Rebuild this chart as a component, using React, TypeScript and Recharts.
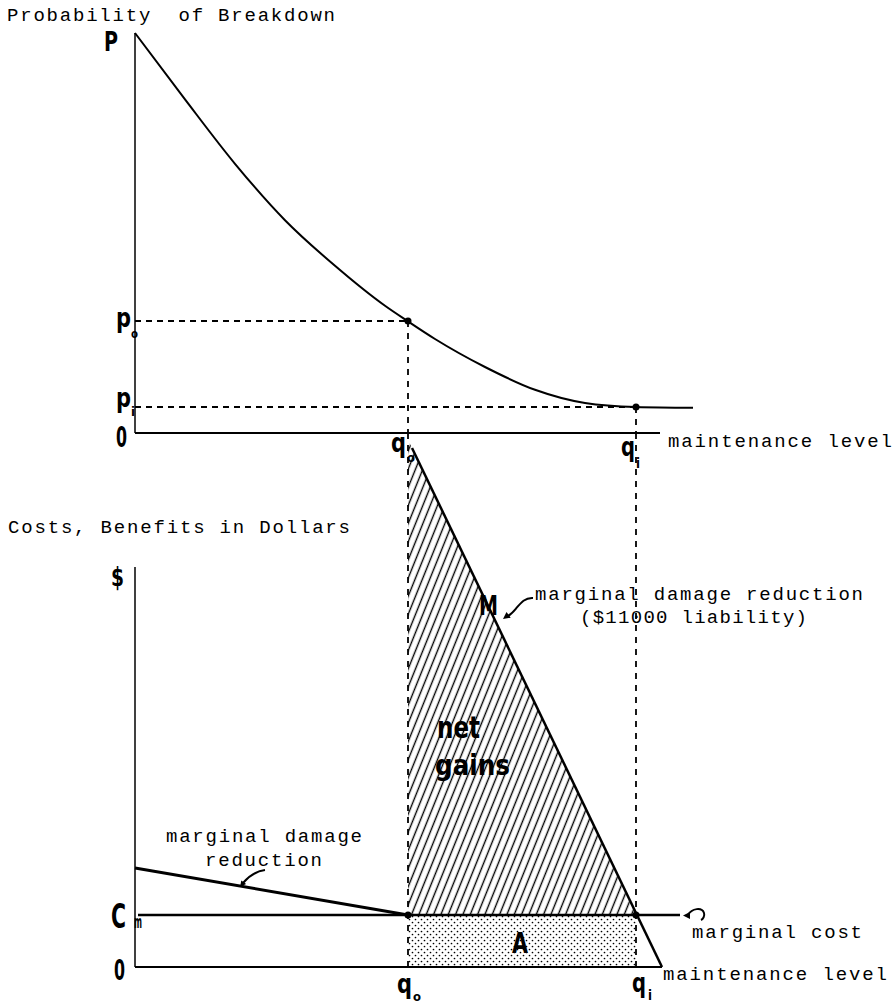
import React from 'react';
import {
  ComposedChart,
  Line,
  Area,
  XAxis,
  YAxis,
  ReferenceLine,
  ReferenceDot,
  ReferenceArea,
} from 'recharts';

const W = 895;
const H = 1003;

// ---------- shared x (maintenance level) ----------
const q0 = 5.46;
const q1 = 10.02;
const qDomain: [number, number] = [0, 11.2];
const qAxisEndTop = 10.5;
const qAxisEndBottom = 10.54;

// ---------- top panel: probability of breakdown ----------
const pTop = 1;
const p0 = 0.28;
const p1 = 0.065;
const breakdownCurve = [
  { q: 0, p: 1.0 },
  { q: 1, p: 0.834 },
  { q: 2, p: 0.673 },
  { q: 3, p: 0.532 },
  { q: 4, p: 0.418 },
  { q: 5, p: 0.318 },
  { q: 5.46, p: 0.279 },
  { q: 6, p: 0.235 },
  { q: 7, p: 0.165 },
  { q: 8, p: 0.108 },
  { q: 9, p: 0.075 },
  { q: 10.02, p: 0.065 },
  { q: 11.16, p: 0.063 },
];

// ---------- bottom panel: dollars ----------
const dollarTop = 10;
const dollarDomainMax = 13.35;
const Cm = 1.3;
const mdrLowLiability = [
  { q: 0, v: 2.475 },
  { q: q0, v: Cm },
];
const mdrHighLiability = [
  { q: 5.54, v: 12.975 },
  { q: 10.54, v: 0 },
];
const marginalCost = [
  { q: 0.06, v: Cm },
  { q: 10.9, v: Cm },
];
const netGains = [
  { q: q0, v: [Cm, 13.18] },
  { q: q1, v: [Cm, Cm] },
];
const mPoint = { q: 7.0, v: 9.186 };

// ---------- tick labels ----------
const topYTicks = ['P', 'p', 'p', '0'];
const topXTicks = ['q', 'q'];
const subs = ['o', 'i'];
const bottomYTicks = ['$', 'C', '0'];

const MONO = "'Liberation Mono', 'DejaVu Sans Mono', monospace";
const BOLD = "'DejaVu Sans Condensed', 'Liberation Sans Narrow', 'DejaVu Sans', sans-serif";

type Note = {
  at: [number, number];
  dx: number;
  dy: number;
  text: string;
  kind: 'mono' | 'bold';
  size: number;
  len?: number;
  anchor?: 'start' | 'middle' | 'end';
};

function renderNotes(notes: Note[], prefix: string) {
  return notes.map((n, i) => (
    <ReferenceDot
      key={prefix + i}
      x={n.at[0]}
      y={n.at[1]}
      r={0}
      ifOverflow="visible"
      shape={(p: any) => (
        <text
          x={p.cx + n.dx}
          y={p.cy + n.dy}
          fontFamily={n.kind === 'mono' ? MONO : BOLD}
          fontWeight={n.kind === 'bold' ? 700 : 400}
          fontSize={n.size}
          fill="#000"
          textAnchor={n.anchor || 'start'}
          textLength={n.len}
          lengthAdjust={n.kind === 'bold' ? 'spacingAndGlyphs' : 'spacing'}
          style={{ whiteSpace: 'pre' }}
        >
          {n.text}
        </text>
      )}
    />
  ));
}

type Arrow = { at: [number, number]; path: string; head: string };
function renderArrows(arrows: Arrow[], prefix: string) {
  return arrows.map((a, i) => (
    <ReferenceDot
      key={prefix + i}
      x={a.at[0]}
      y={a.at[1]}
      r={0}
      ifOverflow="visible"
      shape={(p: any) => (
        <g transform={`translate(${p.cx},${p.cy})`}>
          <path d={a.path} fill="none" stroke="#000" strokeWidth={2} />
          <polygon points={a.head} fill="#000" />
        </g>
      )}
    />
  ));
}

const topNotes: Note[] = [
  { at: [0, pTop], dx: -128, dy: -12, text: 'Probability  of Breakdown', kind: 'mono', size: 19, len: 328 },
  { at: [0, pTop], dx: -31, dy: 18, text: topYTicks[0], kind: 'bold', size: 27, len: 14 },
  { at: [0, p0], dx: -19, dy: 6, text: topYTicks[1], kind: 'bold', size: 26, len: 15 },
  { at: [0, p0], dx: -4, dy: 17, text: subs[0], kind: 'bold', size: 13, len: 7 },
  { at: [0, p1], dx: -19, dy: 0, text: topYTicks[2], kind: 'bold', size: 26, len: 15 },
  { at: [0, p1], dx: -4, dy: 9, text: subs[1], kind: 'bold', size: 13, len: 4 },
  { at: [0, 0], dx: -19, dy: 14, text: topYTicks[3], kind: 'bold', size: 28, len: 11 },
  { at: [q0, 0], dx: -17, dy: 19, text: topXTicks[0], kind: 'bold', size: 26, len: 15 },
  { at: [q0, 0], dx: -1, dy: 29, text: subs[0], kind: 'bold', size: 13, len: 8 },
  { at: [q1, 0], dx: -15, dy: 23, text: topXTicks[1], kind: 'bold', size: 26, len: 14 },
  { at: [q1, 0], dx: 0, dy: 35, text: subs[1], kind: 'bold', size: 14, len: 4 },
  { at: [qAxisEndTop, 0], dx: 8, dy: 14, text: 'maintenance level', kind: 'mono', size: 19, len: 224 },
];

const bottomNotes: Note[] = [
  { at: [0, dollarTop], dx: -127, dy: -34, text: 'Costs, Benefits in Dollars', kind: 'mono', size: 19, len: 342 },
  { at: [0, dollarTop], dx: -24, dy: 19, text: bottomYTicks[0], kind: 'bold', size: 27, len: 13 },
  { at: [0, Cm], dx: -24, dy: 13, text: bottomYTicks[1], kind: 'bold', size: 34, len: 15 },
  { at: [0, Cm], dx: -1, dy: 13, text: 'm', kind: 'bold', size: 17, len: 8 },
  { at: [0, 0], dx: -21, dy: 13, text: bottomYTicks[2], kind: 'bold', size: 28, len: 11 },
  { at: [q0, 0], dx: -11, dy: 26, text: topXTicks[0], kind: 'bold', size: 26, len: 15 },
  { at: [q0, 0], dx: 5, dy: 34, text: subs[0], kind: 'bold', size: 13, len: 8 },
  { at: [q1, 0], dx: -4, dy: 25, text: topXTicks[1], kind: 'bold', size: 26, len: 14 },
  { at: [q1, 0], dx: 12, dy: 33, text: subs[1], kind: 'bold', size: 14, len: 4 },
  { at: [qAxisEndBottom, 0], dx: 1, dy: 13, text: 'maintenance level', kind: 'mono', size: 19, len: 224 },
  { at: [10.9, Cm], dx: 12, dy: 23, text: 'marginal cost', kind: 'mono', size: 19, len: 170 },
  { at: [mPoint.q, mPoint.v], dx: -6, dy: 15, text: 'M', kind: 'bold', size: 27, len: 19 },
  { at: [mPoint.q, mPoint.v], dx: 50, dy: 0, text: 'marginal damage reduction', kind: 'mono', size: 19, len: 328 },
  { at: [mPoint.q, mPoint.v], dx: 95, dy: 23, text: '($11000 liability)', kind: 'mono', size: 19, len: 227 },
  { at: [q0, Cm], dx: 29, dy: -177, text: 'net', kind: 'bold', size: 30, len: 43 },
  { at: [q0, Cm], dx: 27, dy: -140, text: 'gains', kind: 'bold', size: 28, len: 75 },
  { at: [(q0 + q1) / 2, Cm / 2], dx: -2, dy: 12, text: 'A', kind: 'bold', size: 28, len: 16, anchor: 'middle' },
  { at: [0, 2.475], dx: 31, dy: -26, text: 'marginal damage', kind: 'mono', size: 19, len: 196 },
  { at: [0, 2.475], dx: 70, dy: -2, text: 'reduction', kind: 'mono', size: 19, len: 117 },
];

const bottomArrows: Arrow[] = [
  {
    at: [mPoint.q, mPoint.v],
    path: 'M48,-1.5 C40,-2 36,3 31,9 S24,16 22,17',
    head: '18,19.5 25.7,18.1 21.5,12.5',
  },
  {
    at: [0, 2.475],
    path: 'M130,2 C122,3 115,7 108,15',
    head: '105,19 111.1,16.1 106.3,12.5',
  },
  {
    at: [10.9, Cm],
    path: 'M8,0 C12,-7 22,-8 24,-2 C25,1 23,4 21,5',
    head: '3,0.5 10,-3 10,4',
  },
];

const dashH = '6 5';
const dashV = '6 6';

export default function App() {
  return (
    <div style={{ position: 'absolute', left: 0, top: 0, width: W, height: H, background: '#fff' }}>
      <svg width={0} height={0} style={{ position: 'absolute' }}>
        <defs>
          <pattern id="hatch" patternUnits="userSpaceOnUse" width={6.8} height={10} patternTransform="rotate(22)">
            <line x1={3.4} y1={0} x2={3.4} y2={10} stroke="#000" strokeWidth={1.4} />
          </pattern>
          <pattern id="dots" patternUnits="userSpaceOnUse" width={6} height={6}>
            <circle cx={1.5} cy={1.5} r={0.85} fill="#000" />
            <circle cx={4.5} cy={4.5} r={0.85} fill="#000" />
          </pattern>
        </defs>
      </svg>

      {/* bottom panel */}
      <div style={{ position: 'absolute', left: 0, top: 0 }}>
        <ComposedChart width={W} height={H} margin={{ top: 433, right: 200, bottom: 36, left: 135 }}>
          <XAxis hide type="number" dataKey="q" domain={qDomain} />
          <YAxis hide type="number" domain={[0, dollarDomainMax]} />
          <ReferenceArea x1={q0} x2={q1} y1={0} y2={Cm} fill="url(#dots)" fillOpacity={1} stroke="none" />
          <Area data={netGains} dataKey="v" type="linear" fill="url(#hatch)" fillOpacity={1} stroke="none" isAnimationActive={false} />
          <ReferenceLine segment={[{ x: q0, y: dollarDomainMax }, { x: q0, y: 0 }]} stroke="#000" strokeWidth={1.8} strokeDasharray={dashV} />
          <ReferenceLine segment={[{ x: q1, y: dollarDomainMax }, { x: q1, y: 0 }]} stroke="#000" strokeWidth={1.8} strokeDasharray={dashV} />
          <ReferenceLine segment={[{ x: 0, y: 0 }, { x: 0, y: dollarTop }]} stroke="#000" strokeWidth={1.5} />
          <ReferenceLine segment={[{ x: 0, y: 0 }, { x: qAxisEndBottom, y: 0 }]} stroke="#000" strokeWidth={2} />
          <Line data={marginalCost} dataKey="v" type="linear" stroke="#000" strokeWidth={2.5} dot={false} isAnimationActive={false} />
          <Line data={mdrLowLiability} dataKey="v" type="linear" stroke="#000" strokeWidth={3} dot={false} isAnimationActive={false} />
          <Line data={mdrHighLiability} dataKey="v" type="linear" stroke="#000" strokeWidth={2.5} dot={false} isAnimationActive={false} />
          <ReferenceDot x={q0} y={Cm} r={3.5} fill="#000" stroke="none" />
          <ReferenceDot x={q1} y={Cm} r={3.5} fill="#000" stroke="none" />
          {renderArrows(bottomArrows, 'ba')}
          {renderNotes(bottomNotes, 'bn')}
        </ComposedChart>
      </div>

      {/* top panel */}
      <div style={{ position: 'absolute', left: 0, top: 0 }}>
        <ComposedChart width={W} height={H} margin={{ top: 33, right: 200, bottom: 570, left: 135 }}>
          <XAxis hide type="number" dataKey="q" domain={qDomain} />
          <YAxis hide type="number" domain={[0, pTop]} />
          <ReferenceLine segment={[{ x: 0, y: 0 }, { x: 0, y: pTop }]} stroke="#000" strokeWidth={1.5} />
          <ReferenceLine segment={[{ x: 0, y: 0 }, { x: qAxisEndTop, y: 0 }]} stroke="#000" strokeWidth={2} />
          <ReferenceLine segment={[{ x: 0, y: p0 }, { x: q0, y: p0 }]} stroke="#000" strokeWidth={1.8} strokeDasharray={dashH} />
          <ReferenceLine segment={[{ x: 0, y: p1 }, { x: q1, y: p1 }]} stroke="#000" strokeWidth={1.8} strokeDasharray={dashH} />
          <ReferenceLine segment={[{ x: q0, y: p0 }, { x: q0, y: 0 }]} stroke="#000" strokeWidth={1.8} strokeDasharray={dashV} />
          <ReferenceLine segment={[{ x: q1, y: p1 }, { x: q1, y: 0 }]} stroke="#000" strokeWidth={1.8} strokeDasharray={dashV} />
          <Line data={breakdownCurve} dataKey="p" type="monotone" stroke="#000" strokeWidth={2} dot={false} isAnimationActive={false} />
          <ReferenceDot x={q0} y={p0} r={3.5} fill="#000" stroke="none" />
          <ReferenceDot x={q1} y={p1} r={3.5} fill="#000" stroke="none" />
          {renderNotes(topNotes, 'tn')}
        </ComposedChart>
      </div>
    </div>
  );
}
